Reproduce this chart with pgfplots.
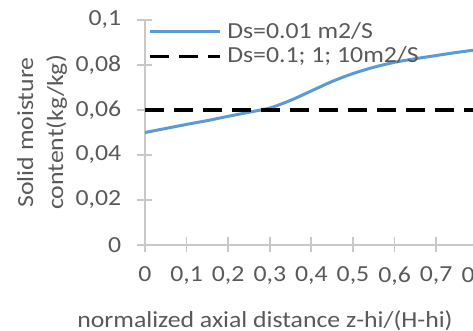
\documentclass[border=0pt]{standalone}
\usepackage{fontspec}
\setmainfont{Carlito}[FakeStretch=1.12]
\usepackage{pgfplots}
\pgfplotsset{compat=1.18}
\definecolor{txtgray}{HTML}{595959}
\definecolor{axgray}{HTML}{C8C8C8}
\definecolor{exblue}{HTML}{5B9BD5}
\newcommand\fsz{\fontsize{11.5}{14}\selectfont}
\begin{document}
\begin{tikzpicture}
\path[use as bounding box] (0pt,0pt) rectangle (236.5pt,165.5pt);
\clip (0pt,0pt) rectangle (236.5pt,165.5pt);
\begin{axis}[
  at={(72.5pt,43pt)}, anchor=south west,
  scale only axis, width=208pt, height=112.5pt,
  xmin=0, xmax=1, ymin=0, ymax=0.1,
  axis x line=bottom, axis y line=left,
  axis line style={-, draw=axgray, line width=0.9pt},
  xtick={0,0.1,0.2,0.3,0.4,0.5,0.6,0.7,0.8,0.9,1},
  ytick={0,0.02,0.04,0.06,0.08,0.1},
  tick align=center, major tick length=7.5pt,
  tick style={draw=axgray, line width=0.9pt},
  ticklabel style={font=\fsz, text=txtgray},
  xticklabel style={anchor=north, inner sep=0pt, yshift=-7pt},
  yticklabel style={anchor=east, inner sep=0pt, xshift=-8pt},
  /pgf/number format/.cd, use comma, fixed, precision=2, assume math mode=true,
  /pgfplots/.cd,
  xlabel={normalized axial distance z-hi/(H-hi)},
  xlabel style={font=\fsz, text=txtgray, at={(rel axis cs:0.2885,-0.3689)}, anchor=base, inner sep=0pt},
  ylabel={Solid moisture\\content(kg/kg)},
  ylabel style={font=\fontsize{11.5}{15}\selectfont, text=txtgray, align=center, at={(rel axis cs:-0.2476,0.5)}, anchor=center, inner sep=0pt},
  legend style={draw=none, fill=none, at={(rel axis cs:0.0072,0.991)}, anchor=north west, inner sep=0pt, row sep=2.8pt, column sep=2.8pt,
    nodes={inner sep=0pt, font=\fsz, text=txtgray}},
  legend cell align=left,
  legend image code/.code={\draw[#1] (0pt,0pt) -- (35pt,0pt);},
]
\addplot[exblue, line width=1.5pt, smooth, tension=0.5] coordinates {
(0,0.0500) (0.05,0.0518) (0.1,0.0536) (0.15,0.0553) (0.2,0.0572) (0.25,0.0590)
(0.3,0.0609) (0.35,0.0643) (0.4,0.0685) (0.45,0.0727) (0.5,0.0762) (0.55,0.0790)
(0.6,0.0812) (0.65,0.0828) (0.7,0.0842) (0.75,0.0856) (0.8,0.0868) (0.85,0.0878)
};
\addlegendentry{Ds=0.01 m2/S}
\addplot[black, line width=1.65pt, dash pattern=on 9.5pt off 5pt] coordinates {
(0,0.06) (1,0.06)
};
\addlegendentry{Ds=0.1; 1; 10m2/S}
\end{axis}
\end{tikzpicture}
\end{document}
